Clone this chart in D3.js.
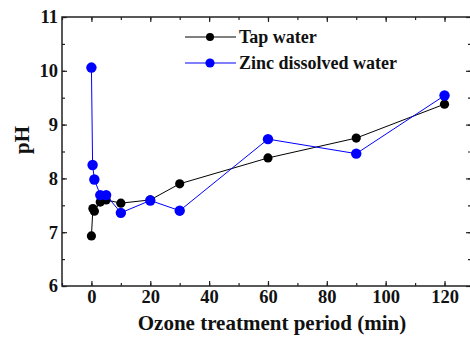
<!DOCTYPE html>
<html><head><meta charset="utf-8">
<script src="https://cdn.jsdelivr.net/npm/d3@7"></script>
<style>body{margin:0;background:#fff}svg{display:block}text{font-family:"Liberation Serif","Times New Roman",serif;font-weight:bold}</style>
</head><body><svg id="c" width="470" height="337"></svg>
<script>
const tapTime = [0, 0.5, 1, 3, 5, 10, 20, 30, 60, 90, 120];
const tapPH   = [6.93, 7.44, 7.39, 7.56, 7.6, 7.54, 7.6, 7.9, 8.38, 8.75, 9.38];
const zincTime = [0, 0.4, 1, 3, 5, 10, 20, 30, 60, 90, 120];
const zincPH   = [10.06, 8.25, 7.98, 7.69, 7.69, 7.36, 7.59, 7.40, 8.73, 8.46, 9.54];
const xTicks = [0, 20, 40, 60, 80, 100, 120];
const yTicks = [6, 7, 8, 9, 10, 11];
const seriesNames = ["Tap water", "Zinc dissolved water"];

const svg = d3.select("#c");
const L = 62, R = 471, T = 17, B = 286;
const x = d3.scaleLinear().domain([-10, 129]).range([L, R]);
const y = d3.scaleLinear().domain([6, 11]).range([B, T]);

const xMinor = d3.range(-10, 130, 10);
const yMinor = d3.range(6, 11.01, 0.5);

function styleAxis(g){ g.select(".domain").remove(); g.selectAll("line").attr("stroke","#222").attr("stroke-width",1.2); }

// bottom
svg.append("g").attr("transform",`translate(0,${B})`)
  .call(d3.axisBottom(x).tickValues(xMinor).tickSize(-3).tickFormat(""))
  .call(styleAxis);
svg.append("g").attr("transform",`translate(0,${B})`)
  .call(d3.axisBottom(x).tickValues(xTicks).tickSize(-5).tickPadding(4))
  .call(styleAxis)
  .call(g=>g.selectAll("text").attr("font-size",18.5).attr("fill","#111"));
// top
svg.append("g").attr("transform",`translate(0,${T})`)
  .call(d3.axisTop(x).tickValues(xMinor).tickSize(-3).tickFormat("")).call(styleAxis);
svg.append("g").attr("transform",`translate(0,${T})`)
  .call(d3.axisTop(x).tickValues(xTicks).tickSize(-5).tickFormat("")).call(styleAxis);
// left
svg.append("g").attr("transform",`translate(${L},0)`)
  .call(d3.axisLeft(y).tickValues(yMinor).tickSize(-3).tickFormat("")).call(styleAxis);
svg.append("g").attr("transform",`translate(${L},0)`)
  .call(d3.axisLeft(y).tickValues(yTicks).tickSize(-5).tickPadding(4).tickFormat(d3.format("d")))
  .call(styleAxis)
  .call(g=>g.selectAll("text").attr("font-size",18.5).attr("fill","#111"));
// right
svg.append("g").attr("transform",`translate(${R},0)`)
  .call(d3.axisRight(y).tickValues(yMinor).tickSize(-3).tickFormat("")).call(styleAxis);
svg.append("g").attr("transform",`translate(${R},0)`)
  .call(d3.axisRight(y).tickValues(yTicks).tickSize(-5).tickFormat("")).call(styleAxis);

// frame
svg.append("rect").attr("x",L).attr("y",T).attr("width",R-L).attr("height",B-T)
  .attr("fill","none").attr("stroke","#222").attr("stroke-width",1.5);

// series
const series = [
  {name: seriesNames[0], t: tapTime, v: tapPH, color: "#000000", r: 4.6},
  {name: seriesNames[1], t: zincTime, v: zincPH, color: "#0000ff", r: 5.2}
];
const line = d3.line().x(d=>x(d[0])).y(d=>y(d[1]));
series.forEach(s=>{
  const pts = s.t.map((t,i)=>[t, s.v[i]]);
  svg.append("path").datum(pts).attr("d", line).attr("fill","none").attr("stroke", s.color).attr("stroke-width",1);
  svg.append("g").selectAll("circle").data(pts).join("circle")
    .attr("cx", d=>x(d[0])).attr("cy", d=>y(d[1])).attr("r", s.r).attr("fill", s.color);
});

// legend
const lg = svg.append("g");
series.forEach((s,i)=>{
  const yy = 37 + i*26;
  lg.append("line").attr("x1",185).attr("x2",236).attr("y1",yy).attr("y2",yy).attr("stroke",s.color).attr("stroke-width",1);
  lg.append("circle").attr("cx",210).attr("cy",yy).attr("r", i===0?4:4.6).attr("fill",s.color);
  lg.append("text").attr("x",239).attr("y",yy+6).attr("font-size",18).attr("fill","#111").text(s.name);
});

// axis titles
svg.append("text").attr("x",272).attr("y",330).attr("text-anchor","middle").attr("font-size",21).attr("fill","#111")
  .text("Ozone treatment period (min)");
svg.append("text").attr("transform",`translate(29,140) rotate(-90)`).attr("text-anchor","middle").attr("font-size",21).attr("fill","#111")
  .text("pH");
</script></body></html>
